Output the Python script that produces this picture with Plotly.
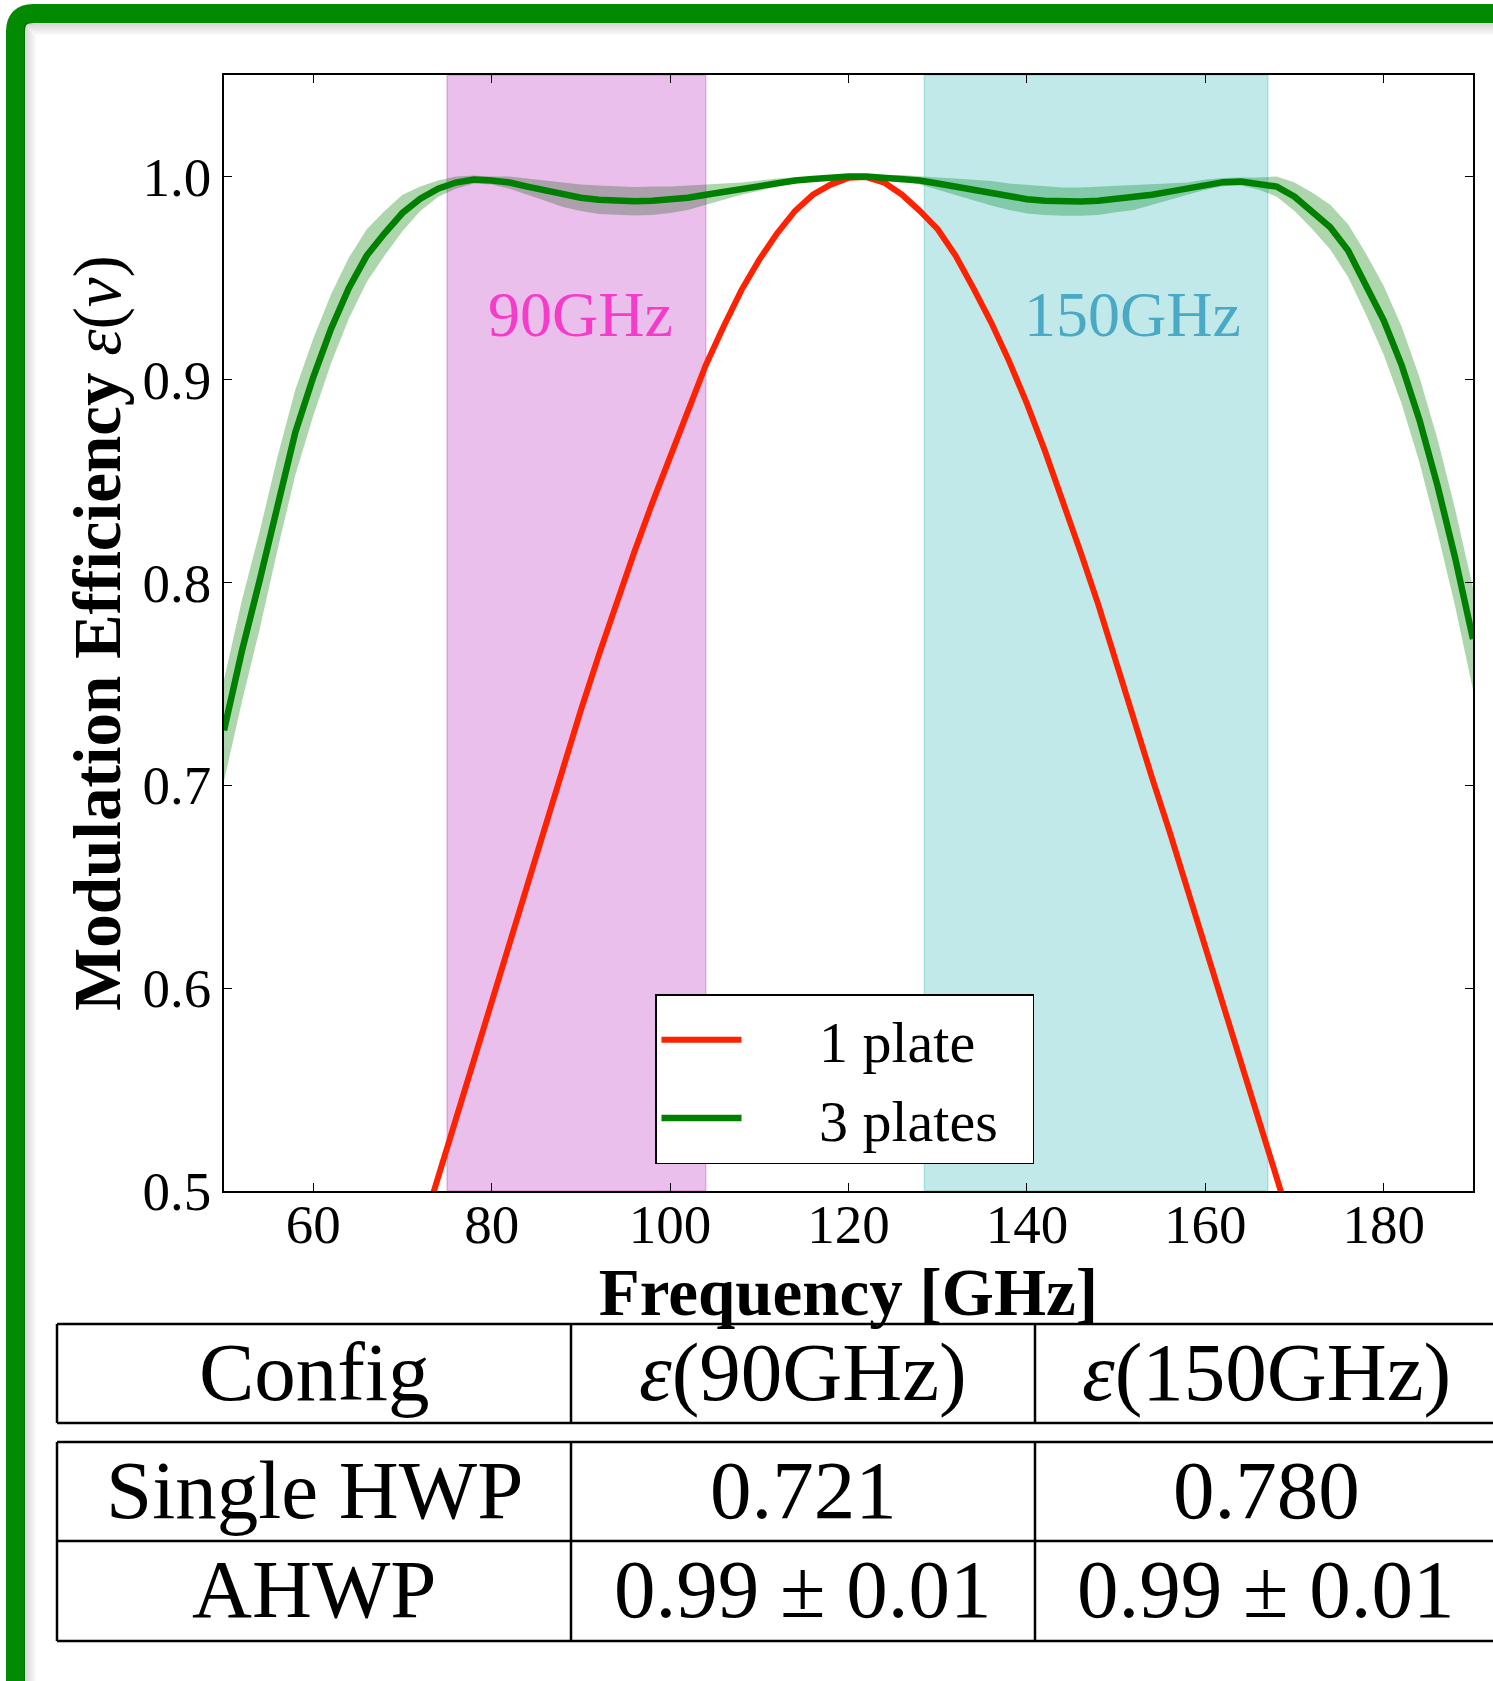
import plotly.graph_objects as go

# ---------------- data ----------------
freq_ghz = [50, 52, 54, 56, 58, 60, 62, 64, 66, 68, 70, 72, 74, 76, 78, 80, 82, 84, 86, 88,
            90, 92, 94, 96, 98, 100, 102, 104, 106, 108, 110, 112, 114, 116, 118, 120, 122,
            124, 126, 128, 130, 132, 134, 136, 138, 140, 142, 144, 146, 148, 150, 152, 154,
            156, 158, 160, 162, 164, 166, 168, 170, 172, 174, 176, 178, 180, 182, 184, 186,
            188, 190]
eff_3plates = [0.727, 0.766, 0.801, 0.839, 0.874, 0.901, 0.925, 0.945, 0.961, 0.972, 0.982,
               0.989, 0.994, 0.997, 0.9985, 0.998, 0.997, 0.995, 0.993, 0.991, 0.9895, 0.9885,
               0.988, 0.9878, 0.988, 0.9885, 0.9895, 0.991, 0.9925, 0.994, 0.9955, 0.997,
               0.998, 0.9988, 0.9995, 1.0, 1.0, 0.9995, 0.9992, 0.998, 0.9965, 0.995, 0.9933,
               0.9917, 0.990, 0.9888, 0.988, 0.9876, 0.9876, 0.988, 0.9888, 0.9895, 0.991,
               0.9925, 0.994, 0.996, 0.9972, 0.9975, 0.9965, 0.995, 0.990, 0.983, 0.975,
               0.9635, 0.947, 0.929, 0.907, 0.880, 0.848, 0.812, 0.772]
err_3plates = [0.025, 0.025, 0.024, 0.023, 0.021, 0.019, 0.017, 0.015, 0.013, 0.011, 0.009,
               0.006, 0.004, 0.003, 0.002, 0.002, 0.003, 0.004, 0.005, 0.006, 0.0065, 0.007,
               0.007, 0.007, 0.007, 0.0065, 0.006, 0.005, 0.004, 0.003, 0.0025, 0.002, 0.0015,
               0.001, 0.001, 0.001, 0.001, 0.001, 0.0015, 0.002, 0.003, 0.004, 0.005, 0.006,
               0.0065, 0.007, 0.007, 0.007, 0.007, 0.007, 0.0065, 0.006, 0.005, 0.004, 0.003,
               0.0025, 0.002, 0.002, 0.003, 0.005, 0.007, 0.009, 0.011, 0.013, 0.015, 0.017,
               0.019, 0.021, 0.023, 0.024, 0.025]

freq_1plate = [72, 74, 76, 78, 80, 82, 84, 86, 88, 90, 92, 94, 96, 98, 100, 102, 104, 106,
               108, 110, 112, 114, 116, 118, 120, 122, 124, 126, 128, 130, 132, 134, 136, 138,
               140, 142, 144, 146, 148, 150, 152, 154, 156, 158, 160, 162, 164, 166, 168, 170]
eff_1plate = [0.478, 0.507, 0.536, 0.565, 0.594, 0.623, 0.652, 0.681, 0.709, 0.737, 0.764,
              0.790, 0.815, 0.839, 0.862, 0.885, 0.907, 0.926, 0.944, 0.959, 0.972, 0.983,
              0.991, 0.996, 0.9993, 0.9997, 0.997, 0.991, 0.983, 0.974, 0.961, 0.945, 0.928,
              0.909, 0.888, 0.865, 0.841, 0.815, 0.789, 0.760, 0.732, 0.704, 0.677, 0.649,
              0.621, 0.593, 0.564, 0.535, 0.507, 0.478]

band_90 = [75.0, 104.0]
band_150 = [128.5, 167.0]
band_labels = ["90GHz", "150GHz"]
band_label_x = [90.0, 151.8]
band_label_y = [0.932, 0.932]

series_names = ["1 plate", "3 plates"]
x_range = [50, 190]
y_range = [0.5, 1.05]
x_ticks = [60, 80, 100, 120, 140, 160, 180]
y_ticks = [0.5, 0.6, 0.7, 0.8, 0.9, 1.0]
y_ticklabels = ["0.5", "0.6", "0.7", "0.8", "0.9", "1.0"]

table_header = ["Config", "<i>ε</i>(90GHz)", "<i>ε</i>(150GHz)"]
table_rows = [["Single HWP", "0.721", "0.780"],
              ["AHWP", "0.99 ± 0.01", "0.99 ± 0.01"]]

# ---------------- styles ----------------
W, H = 1493, 1681
PL, PR, PT, PB = 224, 1473, 75, 1191  # plot area in px
FONT = "Liberation Serif"
RED = "#ff2200"
GREEN = "#008000"
FRAME_GREEN = "#038a03"
NB = "\u00a0"


def fx(x):
    return (x - PL) / (PR - PL)


def fy(y):
    return (PB - y) / (PB - PT)


fig = go.Figure()

# uncertainty band of the 3-plate curve
lo = [c - e for c, e in zip(eff_3plates, err_3plates)]
hi = [c + e for c, e in zip(eff_3plates, err_3plates)]
fig.add_trace(go.Scatter(
    x=freq_ghz + freq_ghz[::-1], y=hi + lo[::-1], fill="toself",
    fillcolor="rgba(0,128,0,0.32)", line=dict(width=0), mode="lines",
    showlegend=False, hoverinfo="skip"))

# frequency bands
for band, col in ((band_90, "rgba(175,0,175,0.25)"), (band_150, "rgba(0,165,165,0.24)")):
    fig.add_trace(go.Scatter(
        x=[band[0], band[1], band[1], band[0], band[0]],
        y=[y_range[0], y_range[0], y_range[1], y_range[1], y_range[0]],
        fill="toself", fillcolor=col, mode="lines",
        line=dict(width=1.5, color=col), showlegend=False, hoverinfo="skip"))

fig.add_trace(go.Scatter(x=freq_1plate, y=eff_1plate, mode="lines",
                         name=NB * 5 + series_names[0] + NB * 2,
                         line=dict(color=RED, width=6)))
fig.add_trace(go.Scatter(x=freq_ghz, y=eff_3plates, mode="lines",
                         name=NB * 5 + series_names[1] + NB * 2,
                         line=dict(color=GREEN, width=6.5)))

# band labels
for lab, lx, ly, col in zip(band_labels, band_label_x, band_label_y, ["#f53cc8", "#4aaac6"]):
    fig.add_annotation(x=lx, y=ly, xref="x", yref="y", text=lab, showarrow=False,
                       font=dict(family=FONT, size=64, color=col),
                       xanchor="center", yanchor="middle")

shapes = []
# green frame with rounded top-left corner
x0, y0, r = 15.5, 13.5, 18
shapes.append(dict(
    type="path", xref="paper", yref="paper",
    path=(f"M {fx(x0)},{fy(1720)} L {fx(x0)},{fy(y0 + r)} "
          f"Q {fx(x0)},{fy(y0)} {fx(x0 + r)},{fy(y0)} L {fx(1540)},{fy(y0)}"),
    line=dict(color=FRAME_GREEN, width=19)))
# soft inner shadow of the frame
for i in range(6):
    a = 0.16 * (1 - i / 6)
    off = 25 + 2 * i
    shapes.append(dict(type="line", xref="paper", yref="paper",
                       x0=fx(off), x1=fx(off), y0=fy(off), y1=fy(1720),
                       line=dict(color=f"rgba(0,0,0,{a:.3f})", width=2)))
    shapes.append(dict(type="line", xref="paper", yref="paper",
                       x0=fx(off), x1=fx(1540), y0=fy(off - 1), y1=fy(off - 1),
                       line=dict(color=f"rgba(0,0,0,{a:.3f})", width=2)))

# table grid
TL, TR = 57, 1497
col_x = [57, 571, 1035]
hdr_top, hdr_bot = 1324, 1423
body_top, body_mid, body_bot = 1442, 1541, 1641
for yy in (hdr_top, hdr_bot, body_top, body_mid, body_bot):
    shapes.append(dict(type="line", xref="paper", yref="paper", x0=fx(TL), x1=fx(TR),
                       y0=fy(yy), y1=fy(yy), line=dict(color="black", width=2.5)))
for cx in col_x:
    for (a, b) in ((hdr_top, hdr_bot), (body_top, body_bot)):
        shapes.append(dict(type="line", xref="paper", yref="paper", x0=fx(cx), x1=fx(cx),
                           y0=fy(a), y1=fy(b), line=dict(color="black", width=2.5)))
fig.update_layout(shapes=shapes)

col_centers = [(col_x[0] + col_x[1]) / 2, (col_x[1] + col_x[2]) / 2, (col_x[2] + TR) / 2]
row_centers = [(hdr_top + hdr_bot) / 2, (body_top + body_mid) / 2, (body_mid + body_bot) / 2]
for r_i, row in enumerate([table_header] + table_rows):
    for c_i, txt in enumerate(row):
        fig.add_annotation(x=fx(col_centers[c_i]), y=fy(row_centers[r_i] - 2), xref="paper",
                           yref="paper", text=txt, showarrow=False,
                           font=dict(family=FONT, size=83, color="black"),
                           xanchor="center", yanchor="middle")

axis_common = dict(showline=True, linecolor="black", linewidth=1.5, mirror="ticks",
                   ticks="inside", ticklen=8, tickwidth=1, tickcolor="black",
                   showgrid=False, zeroline=False,
                   tickfont=dict(family=FONT, size=55, color="black"))

fig.update_xaxes(range=x_range, tickvals=x_ticks, ticklabelstandoff=-16, **axis_common,
                 title=dict(text="<b>Frequency [GHz]</b>", standoff=4,
                            font=dict(family=FONT, size=67, color="black")))
fig.update_yaxes(range=y_range, tickvals=y_ticks, ticktext=y_ticklabels, **axis_common,
                 title=dict(text="<b>Modulation Efficiency</b> <i>ε</i>(<i>ν</i>)", standoff=0,
                            font=dict(family=FONT, size=67, color="black")))

fig.update_layout(
    width=W, height=H,
    margin=dict(l=PL, r=W - PR, t=PT, b=H - PB, autoexpand=False),
    paper_bgcolor="white", plot_bgcolor="white",
    font=dict(family=FONT, color="black"),
    legend=dict(x=fx(655), y=fy(994), xanchor="left", yanchor="top",
                bgcolor="white", bordercolor="black", borderwidth=1.5,
                font=dict(family=FONT, size=58, color="black"),
                itemwidth=80, tracegroupgap=0),
)

fig.write_html("out.html")
